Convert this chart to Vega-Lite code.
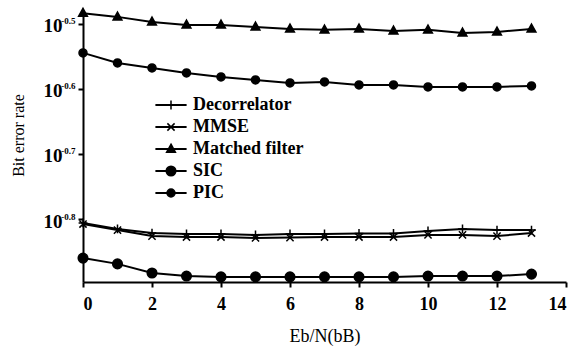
{
  "$schema": "https://vega.github.io/schema/vega-lite/v6.json",
  "width": 483,
  "height": 272,
  "autosize": {"type": "none"},
  "padding": {"left": 83, "top": 10, "right": 11, "bottom": 69},
  "background": "white",
  "config": {
    "view": {"stroke": null},
    "font": "Liberation Serif",
    "axis": {"domainColor": "black", "tickColor": "black", "labelColor": "black", "titleColor": "black", "grid": false, "domainWidth": 2, "tickWidth": 2, "tickSize": 5, "labelFont": "Liberation Serif", "titleFont": "Liberation Serif"},
    "legend": {"labelFont": "Liberation Serif"}
  },
  "data": {"values": [
    {"x":0,"series":"Decorrelator","ber":0.1563},{"x":1,"series":"Decorrelator","ber":0.1530},{"x":2,"series":"Decorrelator","ber":0.1508},{"x":3,"series":"Decorrelator","ber":0.1503},{"x":4,"series":"Decorrelator","ber":0.1503},{"x":5,"series":"Decorrelator","ber":0.1498},{"x":6,"series":"Decorrelator","ber":0.1503},{"x":7,"series":"Decorrelator","ber":0.1503},{"x":8,"series":"Decorrelator","ber":0.1506},{"x":9,"series":"Decorrelator","ber":0.1506},{"x":10,"series":"Decorrelator","ber":0.1519},{"x":11,"series":"Decorrelator","ber":0.1530},{"x":12,"series":"Decorrelator","ber":0.1524},{"x":13,"series":"Decorrelator","ber":0.1524},
    {"x":0,"series":"MMSE","ber":0.1557},{"x":1,"series":"MMSE","ber":0.1524},{"x":2,"series":"MMSE","ber":0.1492},{"x":3,"series":"MMSE","ber":0.1487},{"x":4,"series":"MMSE","ber":0.1487},{"x":5,"series":"MMSE","ber":0.1482},{"x":6,"series":"MMSE","ber":0.1484},{"x":7,"series":"MMSE","ber":0.1487},{"x":8,"series":"MMSE","ber":0.1487},{"x":9,"series":"MMSE","ber":0.1487},{"x":10,"series":"MMSE","ber":0.1498},{"x":11,"series":"MMSE","ber":0.1498},{"x":12,"series":"MMSE","ber":0.1492},{"x":13,"series":"MMSE","ber":0.1508},
    {"x":0,"series":"Matched filter","ber":0.3285},{"x":1,"series":"Matched filter","ber":0.3242},{"x":2,"series":"Matched filter","ber":0.3185},{"x":3,"series":"Matched filter","ber":0.3151},{"x":4,"series":"Matched filter","ber":0.3151},{"x":5,"series":"Matched filter","ber":0.3129},{"x":6,"series":"Matched filter","ber":0.3107},{"x":7,"series":"Matched filter","ber":0.3097},{"x":8,"series":"Matched filter","ber":0.3107},{"x":9,"series":"Matched filter","ber":0.3085},{"x":10,"series":"Matched filter","ber":0.3097},{"x":11,"series":"Matched filter","ber":0.3063},{"x":12,"series":"Matched filter","ber":0.3074},{"x":13,"series":"Matched filter","ber":0.3107},
    {"x":0,"series":"SIC","ber":0.1380},{"x":1,"series":"SIC","ber":0.1352},{"x":2,"series":"SIC","ber":0.1309},{"x":3,"series":"SIC","ber":0.1295},{"x":4,"series":"SIC","ber":0.1291},{"x":5,"series":"SIC","ber":0.1291},{"x":6,"series":"SIC","ber":0.1291},{"x":7,"series":"SIC","ber":0.1291},{"x":8,"series":"SIC","ber":0.1291},{"x":9,"series":"SIC","ber":0.1291},{"x":10,"series":"SIC","ber":0.1295},{"x":11,"series":"SIC","ber":0.1295},{"x":12,"series":"SIC","ber":0.1295},{"x":13,"series":"SIC","ber":0.1304},
    {"x":0,"series":"PIC","ber":0.2854},{"x":1,"series":"PIC","ber":0.2754},{"x":2,"series":"PIC","ber":0.2706},{"x":3,"series":"PIC","ber":0.2658},{"x":4,"series":"PIC","ber":0.2621},{"x":5,"series":"PIC","ber":0.2593},{"x":6,"series":"PIC","ber":0.2566},{"x":7,"series":"PIC","ber":0.2575},{"x":8,"series":"PIC","ber":0.2548},{"x":9,"series":"PIC","ber":0.2548},{"x":10,"series":"PIC","ber":0.2530},{"x":11,"series":"PIC","ber":0.2530},{"x":12,"series":"PIC","ber":0.2530},{"x":13,"series":"PIC","ber":0.2539}
  ]},
  "encoding": {
    "x": {"field": "x", "type": "quantitative", "scale": {"domain": [0, 14], "nice": false},
      "axis": {"values": [0,2,4,6,8,10,12,14], "title": "Eb/N(bB)", "labelFontSize": 18, "labelFontWeight": "bold", "labelPadding": 8, "titleFontSize": 18, "titleFontWeight": "normal", "titleY": 45, "titleBaseline": "top"}}
  },
  "resolve": {"axis": {"y": "independent"}},
  "layer": [
    {"mark": {"type": "line", "strokeWidth": 2},
     "encoding": {
      "y": {"field": "ber", "type": "quantitative", "scale": {"type": "log", "domain": [0.1268, 0.3322], "nice": false},
        "axis": {"orient": "left", "values": [0.316228, 0.251189, 0.199526, 0.158489], "title": "Bit error rate",
          "labelExpr": "'10'", "labelFontSize": 19, "labelFontWeight": "bold", "labelPadding": 16, "labelOffset": 2,
          "titleFontSize": 16, "titleFontWeight": "normal", "titleX": -65, "titleY": 125, "titleBaseline": "middle"}},
      "color": {"field": "series", "type": "nominal",
        "scale": {"range": ["black", "black", "black", "black", "black"]},
        "legend": {"title": null, "orient": "none", "legendX": 79, "legendY": 86, "padding": 0,
          "symbolType": "M-3.9,0H3.9", "symbolSize": 64, "symbolStrokeWidth": 2, "symbolStrokeColor": "black",
          "rowPadding": 4, "labelOffset": 13, "labelFontSize": 18, "labelFontWeight": "bold", "labelOpacity": 0, "labelLimit": 300}}}},
    {"mark": {"type": "point", "filled": true, "fill": "black", "stroke": "black", "strokeWidth": 1.5, "opacity": 1, "size": 64},
     "encoding": {
      "y": {"field": "ber", "type": "quantitative",
        "axis": {"orient": "left", "values": [0.316228, 0.251189, 0.199526, 0.158489], "title": null, "domain": false, "tickOpacity": 0,
          "labelExpr": "'-0.' + (-round(log(datum.value)*10/LN10))", "labelFontSize": 9, "labelFontWeight": "bold", "labelPadding": 3, "labelOffset": -3}},
      "shape": {"field": "series", "type": "nominal",
        "scale": {"domain": ["Decorrelator", "MMSE", "Matched filter", "SIC", "PIC"],
          "range": ["M-1.1,0H1.1M0,-1.1V1.1", "M-0.9,-0.9L0.9,0.9M-0.9,0.9L0.9,-0.9", "M0,-1.2L1.1,0.8L-1.1,0.8Z", "M1.2,0A1.2,1.2 0 1,1 -1.2,0A1.2,1.2 0 1,1 1.2,0Z", "M1,0A1,1 0 1,1 -1,0A1,1 0 1,1 1,0Z"]},
        "legend": {"title": null, "orient": "none", "legendX": 79, "legendY": 86, "padding": 0,
          "symbolSize": 64, "symbolStrokeWidth": 1.5, "symbolFillColor": "black", "symbolStrokeColor": "black",
          "rowPadding": 4, "labelOffset": 13, "labelFontSize": 18, "labelFontWeight": "bold", "labelColor": "black", "labelLimit": 300,
          "encoding": {"symbols": {"stroke": {"value": "black"}, "strokeWidth": {"value": 1.5}, "fill": {"value": "black"}, "opacity": {"value": 1}}}}}}}
  ]
}
